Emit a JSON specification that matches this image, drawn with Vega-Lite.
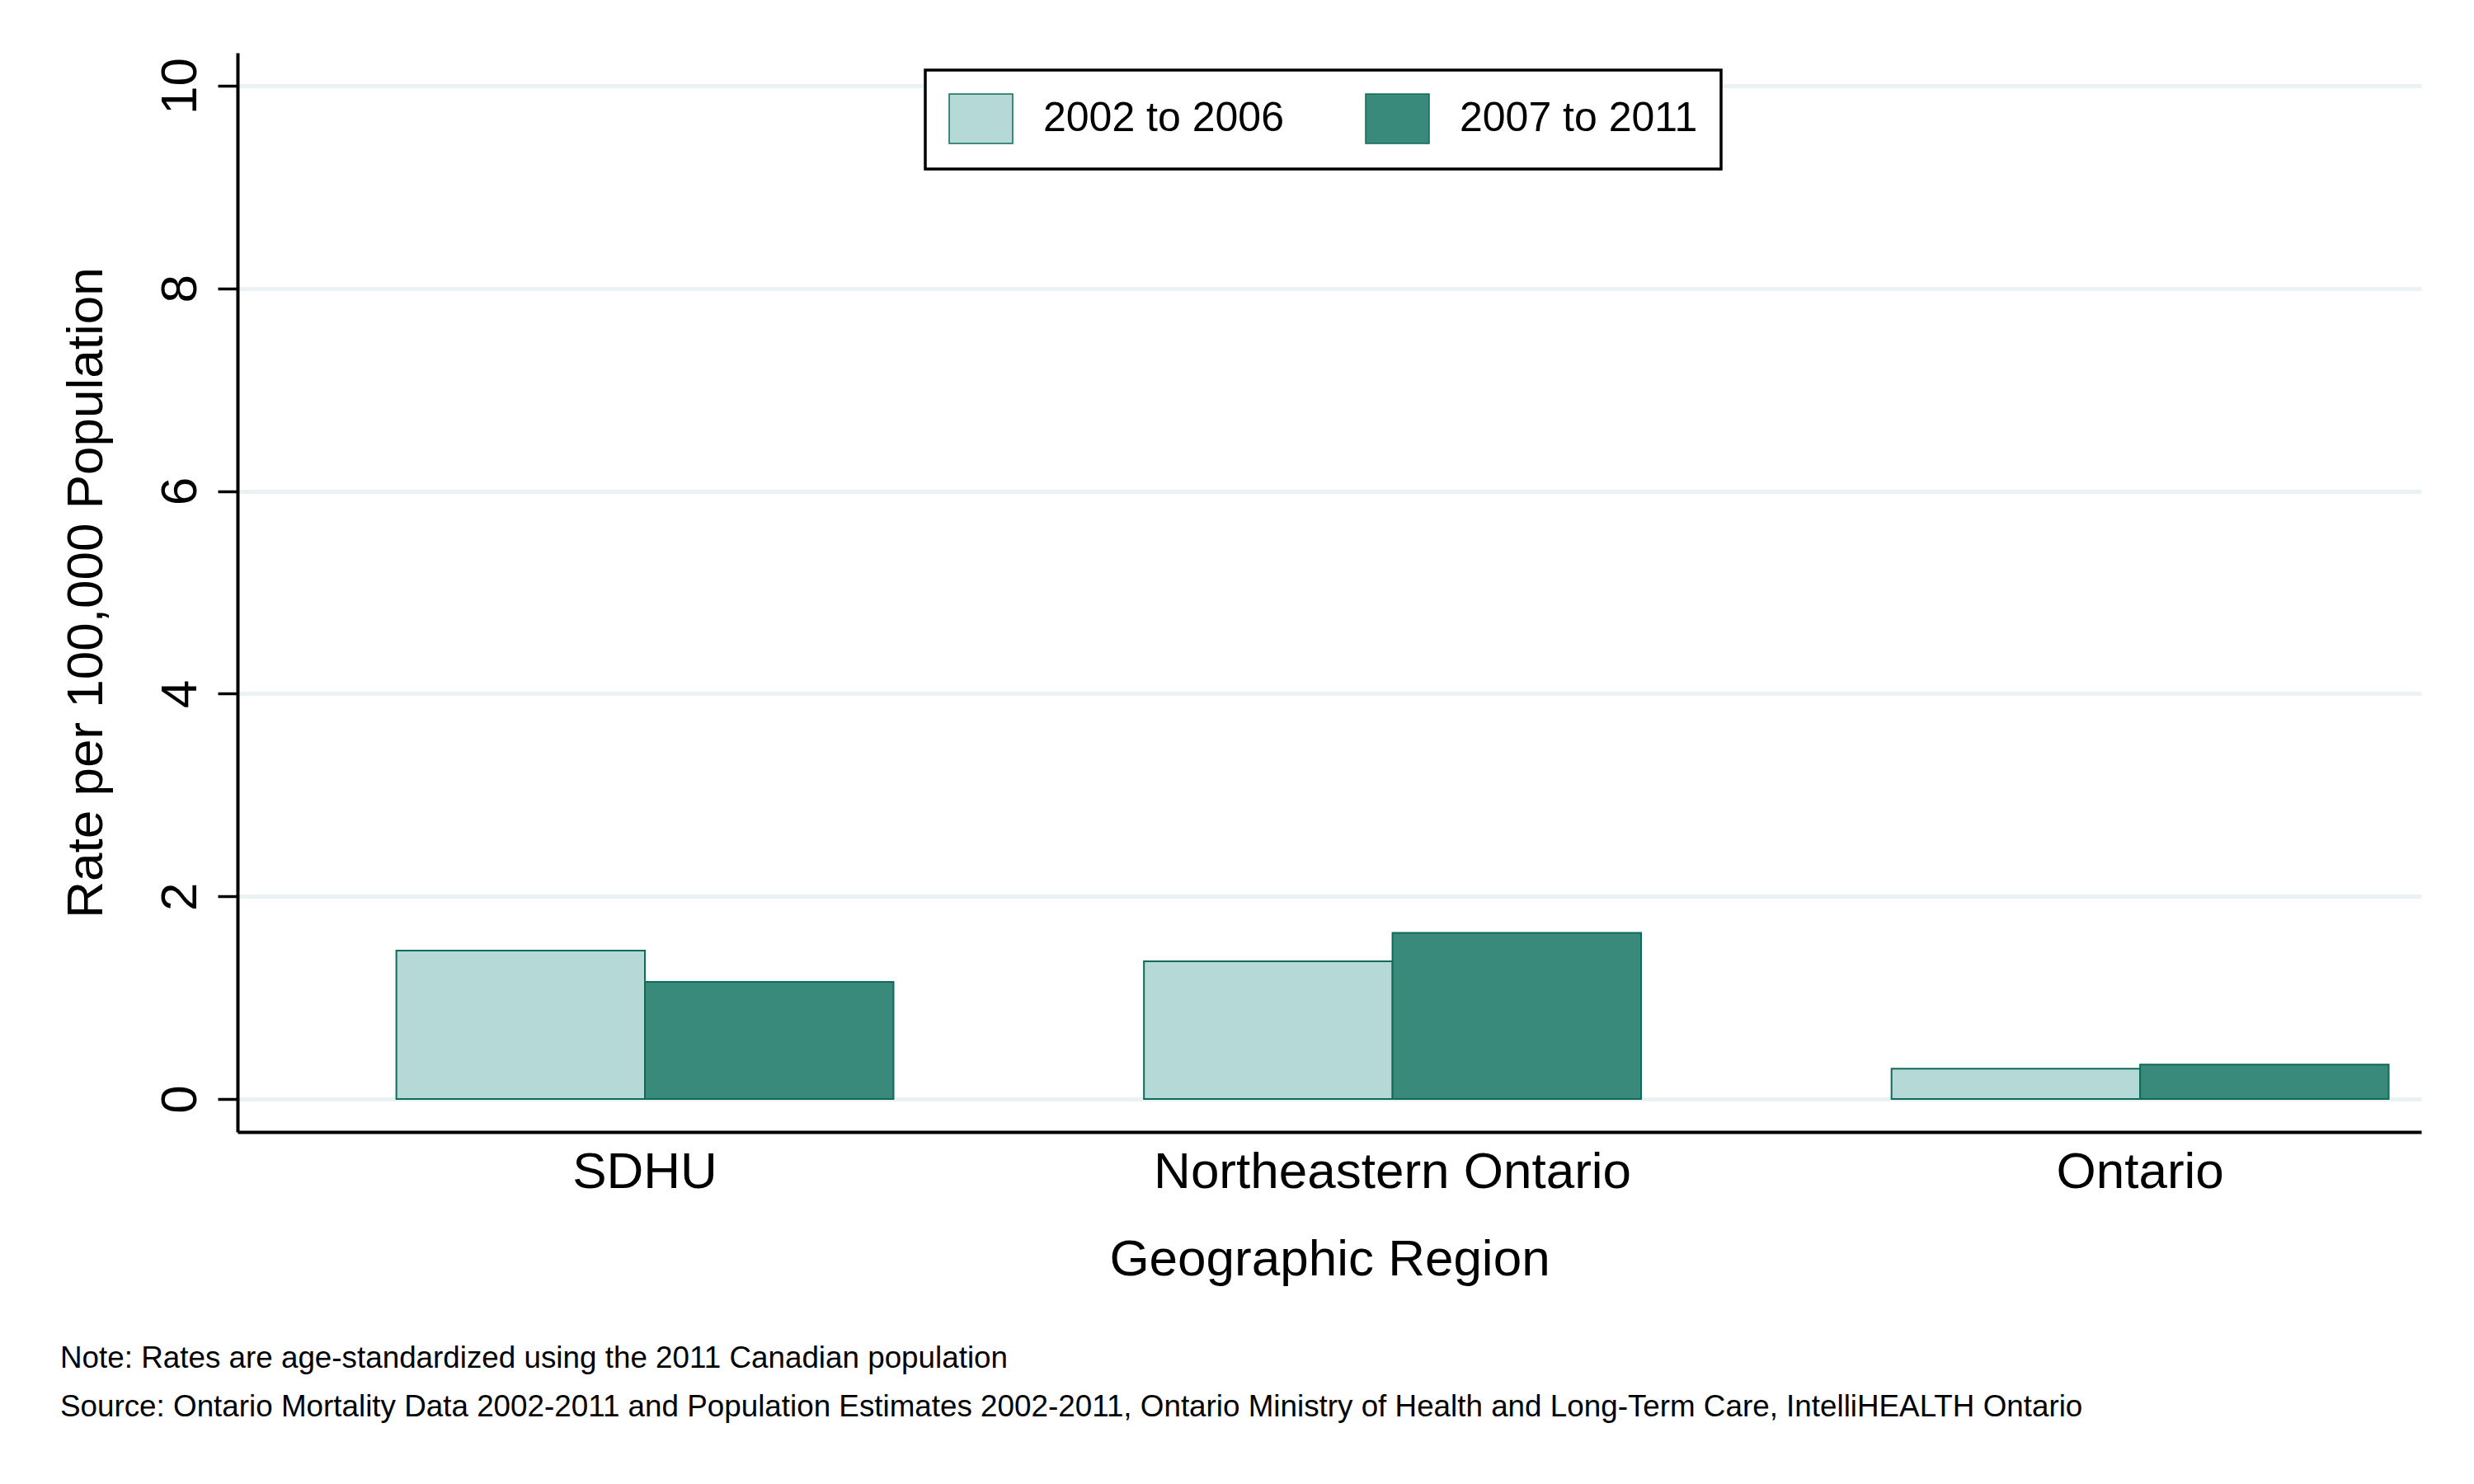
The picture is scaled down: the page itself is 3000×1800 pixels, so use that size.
{
  "$schema": "https://vega.github.io/schema/vega-lite/v6.json",
  "width": 2648,
  "height": 1309,
  "autosize": {"type": "none"},
  "padding": {"left": 288, "top": 64, "right": 64, "bottom": 427},
  "background": "white",
  "config": {"view": {"stroke": null}, "font": "Liberation Sans", "legend": {"strokeWidth": 3.5}},
  "title": {
    "text": ["Note: Rates are age-standardized using the 2011 Canadian population", "Source: Ontario Mortality Data 2002-2011 and Population Estimates 2002-2011, Ontario Ministry of Health and Long-Term Care, IntelliHEALTH Ontario"],
    "orient": "bottom",
    "anchor": "start",
    "frame": "bounds",
    "fontSize": 36.8,
    "fontWeight": "normal",
    "font": "Liberation Sans",
    "color": "black",
    "lineHeight": 59,
    "offset": 72
  },
  "data": {
    "values": [
      {"region": "SDHU", "period": "2002 to 2006", "rate": 1.465},
      {"region": "SDHU", "period": "2007 to 2011", "rate": 1.155},
      {"region": "Northeastern Ontario", "period": "2002 to 2006", "rate": 1.36},
      {"region": "Northeastern Ontario", "period": "2007 to 2011", "rate": 1.64},
      {"region": "Ontario", "period": "2002 to 2006", "rate": 0.3},
      {"region": "Ontario", "period": "2007 to 2011", "rate": 0.34}
    ]
  },
  "mark": {"type": "bar", "stroke": "#0f6b58", "strokeWidth": 2},
  "encoding": {
    "x": {
      "field": "region",
      "type": "nominal",
      "sort": ["SDHU", "Northeastern Ontario", "Ontario"],
      "scale": {"paddingInner": 0.335, "paddingOuter": 0.128, "align": 0.83},
      "axis": {
        "title": "Geographic Region",
        "labelAngle": 0,
        "labelLimit": 0,
        "ticks": false,
        "tickSize": 0,
        "grid": false,
        "domainColor": "black",
        "domainWidth": 4,
        "labelFont": "Liberation Sans",
        "labelFontSize": 62,
        "labelColor": "black",
        "labelPadding": 18,
        "titleFont": "Liberation Sans",
        "titleFontSize": 62,
        "titleFontWeight": "normal",
        "titleColor": "black",
        "titleY": 173,
        "titleBaseline": "alphabetic"
      }
    },
    "xOffset": {
      "field": "period",
      "type": "nominal",
      "sort": ["2002 to 2006", "2007 to 2011"],
      "scale": {"paddingInner": 0, "paddingOuter": 0}
    },
    "y": {
      "field": "rate",
      "type": "quantitative",
      "scale": {"domain": [-0.325, 10.325], "nice": false, "zero": false},
      "axis": {
        "title": "Rate per 100,000 Population",
        "values": [0, 2, 4, 6, 8, 10],
        "grid": true,
        "gridColor": "#eaf2f3",
        "gridWidth": 5,
        "domainColor": "black",
        "domainWidth": 4,
        "tickColor": "black",
        "tickWidth": 3.5,
        "tickSize": 24,
        "labelFont": "Liberation Sans",
        "labelFontSize": 62,
        "labelAngle": 270,
        "labelAlign": "center",
        "labelBaseline": "alphabetic",
        "labelPadding": 27,
        "labelColor": "black",
        "labelFlush": false,
        "labelOverlap": false,
        "titleFont": "Liberation Sans",
        "titleFontSize": 62,
        "titleFontWeight": "normal",
        "titleColor": "black",
        "titleX": -165,
        "titleY": 654.5,
        "titleAngle": 270,
        "titleAlign": "center",
        "titleBaseline": "alphabetic"
      }
    },
    "y2": {"datum": 0},
    "color": {
      "field": "period",
      "type": "nominal",
      "scale": {"domain": ["2002 to 2006", "2007 to 2011"], "range": ["#b5d9d6", "#3a8a7b"]},
      "legend": {
        "title": null,
        "orient": "none",
        "legendX": 834,
        "legendY": 21,
        "direction": "horizontal",
        "padding": 28,
        "strokeColor": "black",
        "fillColor": "white",
        "symbolType": "M-1,-1L1.567,-1L1.567,1L-1,1Z",
        "symbolSize": 3600,
        "symbolStrokeColor": "#0f6b58",
        "symbolStrokeWidth": 1.5,
        "symbolOpacity": 1,
        "labelFont": "Liberation Sans",
        "labelFontSize": 50,
        "labelColor": "black",
        "labelOffset": 53,
        "columnPadding": 96,
        "labelLimit": 0
      }
    }
  }
}
